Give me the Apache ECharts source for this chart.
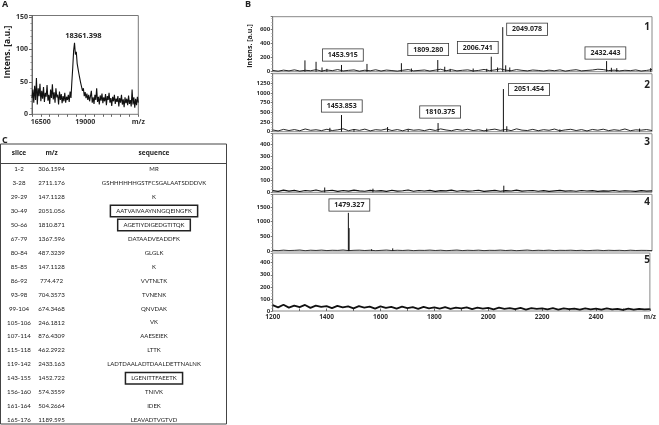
<!DOCTYPE html>
<html><head><meta charset="utf-8">
<script src="https://cdn.jsdelivr.net/npm/echarts@6/dist/echarts.min.js"></script>
<style>html,body{margin:0;padding:0;background:#fff}#c{width:659px;height:425px}</style>
</head><body><div id="c"></div>
<script>
// ---------- DATA ----------
// Panel A: intact protein spectrum (m/z from aStart, step aStep)
const aStart = 16000, aStep = 50;
const aIntensity = [
 25,38,18,44,22,56,15,40,28,47, 20,36,24,42,19,33,27,45,21,30,
 16,38,25,46,23,34,18,40,26,30, 15,35,22,31,17,28,20,33,18,27,
 22,30,19,35,25,50,72,98,110,92, 96,78,70,62,55,48,45,36,40,28,
 34,25,32,22,30,20,28,36,18,26, 16,30,22,40,19,27,15,29,21,32,
 17,26,20,31,14,28,22,33,18,25, 13,27,20,30,16,24,19,28,12,25,
 18,30,15,23,11,26,17,24,14,29, 16,22,12,38,15,26,10,24,14,27,
 18];
const aPeakLabel = '18361.398';
const aTicks = [16500, 19000];

// Panel B: five spectra, baseline (m/z from bStart, step bStep) + peaks [m/z, intensity]
const bStart = 1200, bStep = 20;
const noise1 = [18,8,22,12,26,10,20,14,28,9, 24,15,30,11,19,25,8,21,13,27, 10,23,16,9,20,30,12,18,24,10,
 22,35,14,28,12,20,26,11,18,32, 15,25,40,22,14,30,19,12,24,18, 10,22,14,26,9,20,28,12,18,24, 35,30,16,22,12,20,15,25,10,18, 30];
const noise2 = [45,20,60,30,55,25,70,35,50,28, 62,30,48,75,26,58,34,66,22,52, 40,70,30,55,24,64,38,50,28,60,
 32,72,44,26,58,36,62,30,50,22, 48,66,34,56,28,74,40,30,60,26, 52,36,68,24,46,62,30,54,20,58, 38,64,28,50,34,70,26,48,40,56, 30];
const noise3 = [14,8,18,10,16,7,15,11,19,9, 13,17,8,15,10,18,12,9,16,11, 14,8,17,10,13,19,9,15,11,16,
 8,14,12,18,9,15,10,13,17,8, 12,16,9,14,11,18,10,13,15,9, 14,8,12,16,10,13,9,15,11,14, 8,12,10,15,9,13,11,8,14,10, 12];
const noise4 = [25,12,30,15,22,35,10,28,18,32, 14,26,20,36,12,24,30,16,28,10, 22,34,14,26,18,30,12,24,20,32,
 16,28,10,22,34,14,26,18,30,12, 24,20,32,16,28,10,22,34,14,26, 18,30,12,24,20,28,15,25,11,22, 30,14,26,18,24,12,28,16,22,20, 14];
const noise5 = [48,30,52,28,45,32,50,26,44,35, 40,24,42,30,38,22,40,28,36,20, 38,26,34,20,36,24,32,18,34,22,
 30,20,32,18,28,22,30,16,28,20, 26,14,28,18,24,16,26,12,24,18, 22,14,24,12,22,16,20,12,22,14, 20,12,22,14,18,10,20,12,18,14, 16];
const peaks1 = [[1319,160],[1360,140],[1382,60],[1400,40],[1453.9,95],[1548,110],[1675,120],[1712,45],[1809.3,165],[1835,70],
 [1855,40],[1940,45],[1990,40],[2006.7,212],[2030,60],[2049.1,630],[2060,90],[2075,60],[2432.4,150],[2450,55],[2470,50],[2595,50]];
const peaks2 = [[1411,100],[1453.9,430],[1500,60],[1624,120],[1700,60],[1810.4,223],[1990,80],[2051.5,1100],[2064,140],[2260,60],[2554,80]];
const peaks3 = [[1392,40],[1570,30],[2053,55]];
const peaks4 = [[1479.3,1300],[1482,780],[1565,60],[1643,90]];
const peaks5 = [];
const labels1 = ['1453.915','1809.280','2006.741','2049.078','2432.443'];
const labels2 = ['1453.853','1810.375','2051.454'];
const labels3 = [];
const labels4 = ['1479.327'];
const labels5 = [];
const bTicks = [1200,1400,1600,1800,2000,2200,2400];

// Panel C: table
const tableSlices = ['1-2','3-28','29-29','30-49','50-66','67-79','80-84','85-85','86-92','93-98','99-104','105-106','107-114','115-118','119-142','143-155','156-160','161-164','165-176'];
const tableMz = ['306.1594','2711.176','147.1128','2051.056','1810.871','1367.596','487.3239','147.1128','774.472','704.3573','674.3468','246.1812','876.4309','462.2922','2433.163','1452.722','574.3559','504.2664','1189.595'];
const tableSeq = ['MR','GSHHHHHHGSTFCSGALAATSDDDVK','K','AATVAIVAAYNNGQEINGFK','AGETIYDIGEDGTITQK','DATAADVEADDFK','GLGLK','K','VVTNLTK','TVNENK','QNVDAK','VK','AAESEIEK','LTTK','LADTDAALADTDAALDETTNALNK','LGENITTFAEETK','TNIVK','IDEK','LEAVADTVGTVD'];
const tableHeader = ['slice','m/z','sequence'];
const boxedRows = [3,4,15];

// ---------- LAYOUT / STYLE ----------
const FONT = '"Open Sans", sans-serif';
const TFONT = 'Lato, "Open Sans", sans-serif';
const TXT = '#333';
// label anchors in data coordinates (centre of each annotation box)
const anchors = [
  [[1459,236],[1774,314],[1957,342],[2139,600],[2428,265]],
  [[1455,662],[1818,508],[2146,1088]],
  [],
  [[1483,1568]],
  []
];
const bPanels = [
  {top:16.7, height:55,   max:778,  interval:200, noise:noise1, peaks:peaks1, labels:labels1, lw:0.9},
  {top:73.7, height:58,   max:1495, interval:250, noise:noise2, peaks:peaks2, labels:labels2, lw:0.9},
  {top:133.7,height:58.6, max:488,  interval:100, noise:noise3, peaks:peaks3, labels:labels3, lw:1.1},
  {top:194.3,height:56.7, max:1932, interval:500, noise:noise4, peaks:peaks4, labels:labels4, lw:0.8},
  {top:253,  height:58,   max:480,  interval:100, noise:noise5, peaks:peaks5, labels:labels5, lw:1.8}
];

const grids = [{left:32, top:15.5, width:106.3, height:98.8, show:true, borderColor:'#777', borderWidth:1}];
const xAxes = [{
  gridIndex:0, type:'value', min:16000, max:22000, interval:500,
  axisLine:{show:false}, splitLine:{show:false},
  axisTick:{show:true, length:2.5, lineStyle:{color:'#666'}},
  axisLabel:{fontSize:7, fontWeight:'bold', color:TXT, fontFamily:FONT, margin:4,
    formatter:v => v===22000 ? 'm/z' : (aTicks.indexOf(v)>=0 ? String(v) : '')}
}];
const yAxes = [{
  gridIndex:0, type:'value', min:0, max:152, interval:50,
  axisLine:{show:true, lineStyle:{color:'#666'}}, splitLine:{show:false},
  axisTick:{show:true, length:3, lineStyle:{color:'#666'}},
  minorTick:{show:true, splitNumber:5, length:1.5, lineStyle:{color:'#888'}},
  axisLabel:{fontSize:7, fontWeight:'bold', color:TXT, fontFamily:FONT, margin:4,
    formatter:v => v%50===0 ? String(v) : ''}
}];
const series = [{
  type:'line', xAxisIndex:0, yAxisIndex:0, showSymbol:false, silent:true,
  data:aIntensity.map((v,i)=>[aStart+i*aStep, v]),
  lineStyle:{width:1.1, color:'#111'},
  markPoint:{symbol:'rect', symbolSize:1, itemStyle:{color:'transparent'},
    label:{show:true, position:'inside', formatter:'{b}', fontSize:7.5, fontWeight:'bold', color:'#222', fontFamily:FONT},
    data:[{name:aPeakLabel, coord:[18900,121]}]}
}];

bPanels.forEach((p,k) => {
  const gi = k+1;
  grids.push({left:272.7, right:7, top:p.top, height:p.height, show:true, borderColor:'#888', borderWidth:1});
  const last = k===bPanels.length-1;
  xAxes.push({
    gridIndex:gi, type:'value', min:1200, max:2600, interval:100,
    axisLine:{show:false}, splitLine:{show:false},
    axisTick:{show:last, inside:true, length:2.5, lineStyle:{color:'#666'}},
    axisLabel:{show:last, fontSize:6.5, fontWeight:'bold', color:TXT, fontFamily:FONT, margin:3,
      formatter:v => v===2600 ? 'm/z' : (bTicks.indexOf(v)>=0 ? String(v) : '')}
  });
  yAxes.push({
    gridIndex:gi, type:'value', min:0, max:p.max, interval:p.interval,
    axisLine:{show:true, lineStyle:{color:'#777'}}, splitLine:{show:false},
    axisTick:{show:true, length:2, lineStyle:{color:'#777'}},
    minorTick:{show:true, splitNumber:4, length:1.2, lineStyle:{color:'#999'}},
    axisLabel:{fontSize:6, fontWeight:'bold', color:TXT, fontFamily:FONT, margin:2.5,
      formatter:v => v%p.interval===0 ? String(v) : ''}
  });
  series.push({
    type:'line', xAxisIndex:gi, yAxisIndex:gi, showSymbol:false, silent:true,
    data:p.noise.map((v,i)=>[bStart+i*bStep, v]),
    lineStyle:{width:p.lw, color:'#111'},
    markPoint:{symbol:'rect', symbolSize:1, itemStyle:{color:'transparent'},
      label:{show:true, position:'inside', formatter:'{b}', fontSize:7, fontWeight:'bold', color:'#222',
        fontFamily:FONT, backgroundColor:'#fff', borderColor:'#333', borderWidth:0.8, padding:[2.5,5,2,5]},
      data:p.labels.map((t,i)=>({name:t, coord:anchors[k][i]}))}
  });
  series.push({
    type:'custom', xAxisIndex:gi, yAxisIndex:gi, silent:true,
    data:p.peaks, encode:{x:0, y:1},
    renderItem:(params, api) => {
      const a = api.coord([api.value(0), 0]);
      const b = api.coord([api.value(0), api.value(1)]);
      return {type:'line', shape:{x1:a[0], y1:a[1], x2:b[0], y2:b[1]}, style:{stroke:'#111', lineWidth:1}};
    }
  });
});

// graphics: panel letters, spectrum numbers, axis titles, table
const graphic = [
  {type:'text', left:2, top:0, style:{text:'A', font:'bold 9px '+FONT, fill:'#222'}},
  {type:'text', left:245, top:0, style:{text:'B', font:'bold 9px '+FONT, fill:'#222'}},
  {type:'text', left:2, top:136, style:{text:'C', font:'bold 9px '+FONT, fill:'#222'}},
  {type:'text', x:8, y:52, rotation:Math.PI/2, style:{text:'Intens. [a.u.]', font:'bold 8.5px '+FONT, fill:'#222', align:'center', verticalAlign:'middle'}},
  {type:'text', x:250, y:46, rotation:Math.PI/2, style:{text:'Intens. [a.u.]', font:'bold 7px '+FONT, fill:'#222', align:'center', verticalAlign:'middle'}}
];
const numY = [27,85,142,202,260];
numY.forEach((y,i) => graphic.push({type:'text', x:650, y:y, style:{text:String(i+1), font:'bold 10px '+FONT, fill:'#222', align:'right', verticalAlign:'middle'}}));

const colX = [19, 51.5, 154];
const headY = 153.3, row0 = 169.3, rowH = 13.93;
graphic.push({type:'rect', shape:{x:0.5, y:144, width:226, height:280}, style:{fill:'none', stroke:'#444', lineWidth:1}});
graphic.push({type:'line', shape:{x1:0.5, y1:163.5, x2:226.5, y2:163.5}, style:{stroke:'#444', lineWidth:1}});
tableHeader.forEach((h,j) => graphic.push({type:'text', x:colX[j], y:headY, style:{text:h, font:'bold 6.5px '+FONT, fill:'#222', align:'center', verticalAlign:'middle'}}));
tableSlices.forEach((s,i) => {
  const y = row0 + i*rowH;
  const boxed = boxedRows.indexOf(i) >= 0;
  graphic.push({type:'text', x:colX[0], y:y, style:{text:s, font:'6.2px '+TFONT, fill:'#222', align:'center', verticalAlign:'middle'}});
  graphic.push({type:'text', x:colX[1], y:y, style:{text:tableMz[i], font:'6.2px '+TFONT, fill:'#222', align:'center', verticalAlign:'middle'}});
  const st = {text:tableSeq[i], font:'6px '+TFONT, fill:'#222', align:'center', verticalAlign:'middle'};
  if (boxed) Object.assign(st, {borderColor:'#222', borderWidth:1.5, padding:[2,5,2,5], backgroundColor:'#fff'});
  graphic.push({type:'text', x:colX[2], y:y, style:st});
});

const chart = echarts.init(document.getElementById('c'), null, {renderer:'canvas'});
chart.setOption({
  animation:false, backgroundColor:'#fff',
  grid:grids, xAxis:xAxes, yAxis:yAxes, series:series, graphic:graphic
});
</script></body></html>
